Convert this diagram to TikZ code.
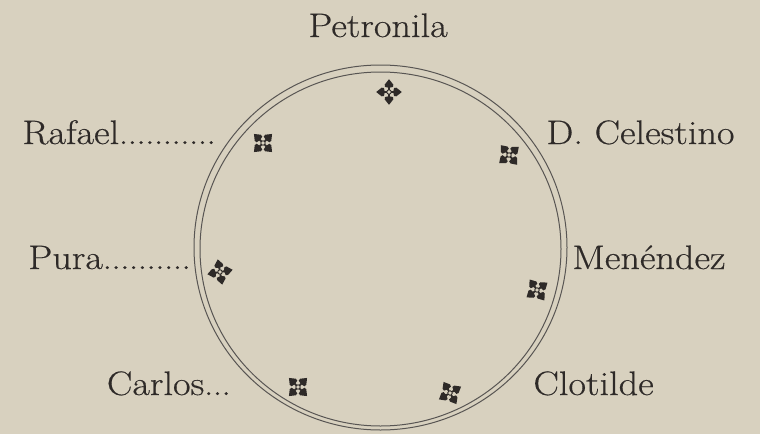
\documentclass[tikz,border=0pt]{standalone}
\usepackage{fontspec}
\usepackage{graphicx}
\usepackage{xcolor}
\usepackage{tikz}
\usetikzlibrary{calc, positioning}

\definecolor{papel}{RGB}{216,209,191}
\definecolor{tinta}{RGB}{46,42,40}

% old print look: the 10pt design, a little heavier
\newfontfamily\impresa{Latin Modern Roman}[FakeBold=0.4]

% wider letters, as in the printed page
\newcommand{\ancho}[1]{\scalebox{1.124}[1]{#1}}
% leader dots after the names
\newcommand{\puntos}[1]{\foreach \p in {1,...,#1}{\hbox to 3.9pt{\hss.\hss}}}

\begin{document}
\begin{tikzpicture}[
  % one unit is one pixel, y going down
  x=0.5pt, y=-0.5pt,
  nombre/.style={font=\impresa\fontsize{17}{20}\selectfont, text=tinta, inner sep=0pt},
  anillo/.style={draw=tinta!80, line width=0.5pt},
  flor/.pic={
    \foreach \a in {0,90,180,270}
      \fill[tinta, rotate=\a] (2,0.8) -- (4.4,1.0)
        .. controls (3.8,3.8) and (5.8,5.2) .. (7.4,4.3)
        .. controls (9.0,3.2) and (10.4,1.8) .. (12.8,0)
        .. controls (10.4,-1.8) and (9.0,-3.2) .. (7.4,-4.3)
        .. controls (5.8,-5.2) and (3.8,-3.8) .. (4.4,-1.0)
        -- (2,-0.8) -- cycle;
    \draw[tinta, fill=papel, line width=0.45pt] (0,0) circle (2.2);
  }
]
  % paper
  \fill[papel] (0,0) rectangle (760,434);

  % the double ring
  \draw[anillo] (380.5,247.5) ellipse [x radius=186.5, y radius=182.5];
  \draw[anillo] (380.5,249) ellipse [x radius=180.5, y radius=177];

  % names round the table
  \node[nombre, anchor=base] (petronila) at (378,37) {\ancho{Petronila}};
  \node[nombre, anchor=base east] (rafael) at (216,144) {\ancho{Rafael\puntos{11}}};
  \node[nombre, anchor=base west] (celestino) at (546,144) {\ancho{D. Celestino}};
  \node[nombre, anchor=base east] (pura) at (191,269) {\ancho{Pura\puntos{10}}};
  \node[nombre, anchor=base west] (menendez) at (572,269) {\ancho{Menéndez}};
  \node[nombre, anchor=base east] (carlos) at (231,395) {\ancho{Carlos\puntos{3}}};
  \node[nombre, anchor=base west] (clotilde) at (533,395) {\ancho{Clotilde}};

  % the seats
  \pic[rotate=0]  at (389,92)  {flor};
  \pic[rotate=45] at (263,143) {flor};
  \pic[rotate=40] at (509,155) {flor};
  \pic[rotate=10] at (220,272) {flor};
  \pic[rotate=35] at (537,290) {flor};
  \pic[rotate=45] at (298,387) {flor};
  \pic[rotate=30] at (450,393) {flor};
\end{tikzpicture}
\end{document}
